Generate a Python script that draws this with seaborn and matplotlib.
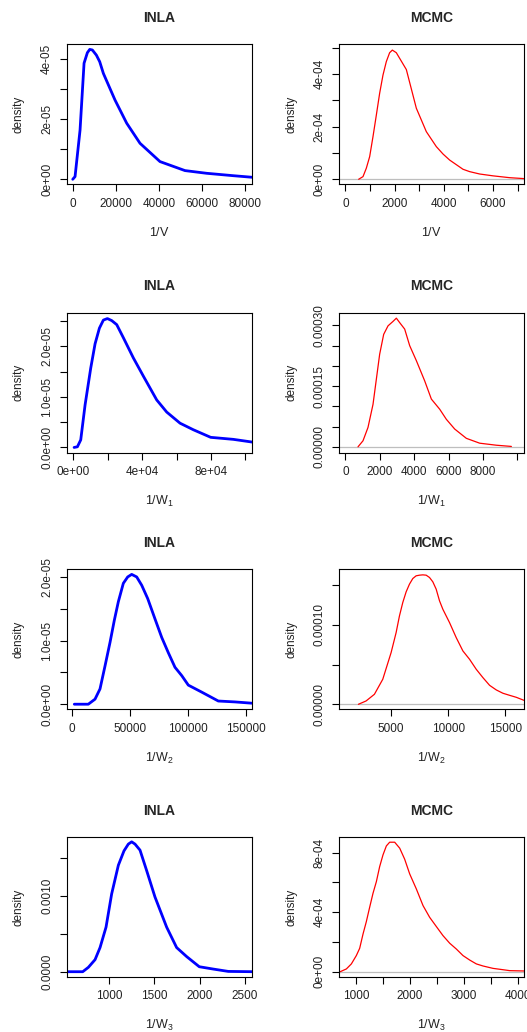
import matplotlib
matplotlib.use("Agg")
import matplotlib.pyplot as plt
from matplotlib.ticker import FixedLocator, FixedFormatter
import numpy as np
import pandas as pd
import seaborn as sns

# ---------------- data ----------------
inla_v_x = [0, 1080, 3400, 5260, 6800, 7900, 9120, 10980, 12530, 14230, 19650, 25060, 31250, 40530, 52130, 62190, 74560, 83380]
inla_v_y = [0, 0.09e-5, 1.64e-5, 3.87e-5, 4.22e-5, 4.33e-5, 4.31e-5, 4.14e-5, 3.92e-5, 3.53e-5, 2.64e-5, 1.87e-5, 1.20e-5, 0.59e-5, 0.29e-5, 0.20e-5, 0.12e-5, 0.067e-5]

mcmc_v_x = [542, 718, 853, 989, 1124, 1260, 1395, 1530, 1665, 1800, 1910, 2072, 2479, 2885, 3291, 3698, 3969, 4239, 4781, 5052, 5458, 6000, 6677, 7260]
mcmc_v_y = [0, 0.10e-4, 0.42e-4, 0.86e-4, 1.62e-4, 2.44e-4, 3.27e-4, 3.96e-4, 4.47e-4, 4.81e-4, 4.91e-4, 4.81e-4, 4.17e-4, 2.70e-4, 1.81e-4, 1.24e-4, 0.96e-4, 0.73e-4, 0.38e-4, 0.29e-4, 0.20e-4, 0.13e-4, 0.06e-4, 0.025e-4]

inla_w1_x = [390, 2320, 4260, 6780, 10070, 12590, 15110, 17430, 19760, 22280, 25180, 29060, 34870, 40680, 48430, 54240, 61990, 69730, 79810, 92980, 104000]
inla_w1_y = [0, 0.013e-5, 0.15e-5, 0.84e-5, 1.57e-5, 2.05e-5, 2.36e-5, 2.52e-5, 2.55e-5, 2.51e-5, 2.43e-5, 2.17e-5, 1.77e-5, 1.41e-5, 0.94e-5, 0.70e-5, 0.48e-5, 0.35e-5, 0.20e-5, 0.16e-5, 0.106e-5]

mcmc_w1_x = [736, 1027, 1317, 1608, 1995, 2228, 2480, 2770, 2964, 3157, 3448, 3739, 4126, 4610, 4998, 5482, 5869, 6353, 7031, 7806, 8775, 9647]
mcmc_w1_y = [0, 0.15e-4, 0.48e-4, 1.05e-4, 2.29e-4, 2.78e-4, 2.99e-4, 3.10e-4, 3.18e-4, 3.07e-4, 2.91e-4, 2.50e-4, 2.13e-4, 1.63e-4, 1.18e-4, 0.93e-4, 0.68e-4, 0.44e-4, 0.21e-4, 0.09e-4, 0.04e-4, 0.01e-4]

inla_w2_x = [2240, 14310, 20090, 24400, 28710, 33020, 36750, 40200, 44510, 48280, 51720, 56030, 60340, 65520, 71810, 77590, 83280, 89050, 94830, 100520, 112070, 126380, 140780, 155170]
inla_w2_y = [0, 0, 0.079e-5, 0.24e-5, 0.60e-5, 0.97e-5, 1.32e-5, 1.61e-5, 1.90e-5, 2.00e-5, 2.04e-5, 2.00e-5, 1.87e-5, 1.66e-5, 1.34e-5, 1.05e-5, 0.81e-5, 0.58e-5, 0.45e-5, 0.30e-5, 0.19e-5, 0.05e-5, 0.036e-5, 0.016e-5]

mcmc_w2_x = [2135, 2807, 3538, 4269, 5000, 5439, 5731, 6023, 6316, 6608, 6901, 7193, 7485, 7778, 8070, 8363, 8655, 8947, 9240, 9532, 10117, 10702, 11287, 11871, 12456, 13041, 13626, 14211, 14795, 15380, 15965, 16637]
mcmc_w2_y = [0, 0.042e-4, 0.126e-4, 0.315e-4, 0.651e-4, 0.903e-4, 1.113e-4, 1.282e-4, 1.416e-4, 1.513e-4, 1.584e-4, 1.618e-4, 1.626e-4, 1.630e-4, 1.626e-4, 1.597e-4, 1.542e-4, 1.450e-4, 1.303e-4, 1.197e-4, 1.029e-4, 0.840e-4, 0.672e-4, 0.567e-4, 0.441e-4, 0.336e-4, 0.239e-4, 0.181e-4, 0.139e-4, 0.113e-4, 0.088e-4, 0.050e-4]

inla_w3_x = [500, 710, 772, 846, 901, 967, 1029, 1103, 1165, 1213, 1250, 1287, 1342, 1415, 1507, 1636, 1746, 1857, 1996, 2151, 2316, 2600]
inla_w3_y = [0, 0, 0.058e-3, 0.16e-3, 0.32e-3, 0.59e-3, 1.03e-3, 1.41e-3, 1.60e-3, 1.69e-3, 1.72e-3, 1.69e-3, 1.61e-3, 1.34e-3, 0.99e-3, 0.59e-3, 0.32e-3, 0.20e-3, 0.066e-3, 0.035e-3, 0.004e-3, 0]

mcmc_w3_x = [710, 821, 914, 1006, 1068, 1130, 1191, 1253, 1315, 1377, 1438, 1500, 1562, 1623, 1716, 1809, 1901, 1994, 2117, 2241, 2364, 2488, 2611, 2735, 2858, 2981, 3105, 3228, 3352, 3537, 3722, 3846, 4111]
mcmc_w3_y = [0, 0.18e-4, 0.52e-4, 1.08e-4, 1.57e-4, 2.53e-4, 3.36e-4, 4.33e-4, 5.27e-4, 6.05e-4, 7.06e-4, 7.85e-4, 8.45e-4, 8.70e-4, 8.70e-4, 8.30e-4, 7.56e-4, 6.57e-4, 5.56e-4, 4.44e-4, 3.65e-4, 3.03e-4, 2.42e-4, 1.91e-4, 1.52e-4, 1.08e-4, 0.78e-4, 0.52e-4, 0.38e-4, 0.22e-4, 0.13e-4, 0.067e-4, 0.045e-4]

titles = ["INLA", "MCMC"]
x_labels = [r"$\mathregular{1/V}$", r"$\mathregular{1/W_1}$", r"$\mathregular{1/W_2}$", r"$\mathregular{1/W_3}$"]
y_label = "density"

# tick positions and the labels that are shown (empty = tick without label)
xticks = [
    ([0, 20000, 40000, 60000, 80000], ["0", "20000", "40000", "60000", "80000"]),
    ([0, 1000, 2000, 3000, 4000, 5000, 6000, 7000], ["0", "", "2000", "", "4000", "", "6000", ""]),
    ([0, 20000, 40000, 60000, 80000, 100000], ["0e+00", "", "4e+04", "", "8e+04", ""]),
    ([0, 2000, 4000, 6000, 8000, 10000], ["0", "2000", "4000", "6000", "8000", ""]),
    ([0, 50000, 100000, 150000], ["0", "50000", "100000", "150000"]),
    ([5000, 10000, 15000], ["5000", "10000", "15000"]),
    ([1000, 1500, 2000, 2500], ["1000", "1500", "2000", "2500"]),
    ([1000, 1500, 2000, 2500, 3000, 3500, 4000], ["1000", "", "2000", "", "3000", "", "4000"]),
]
yticks = [
    ([0, 1e-5, 2e-5, 3e-5, 4e-5], ["0e+00", "", "2e-05", "", "4e-05"]),
    ([0, 1e-4, 2e-4, 3e-4, 4e-4, 5e-4], ["0e+00", "", "2e-04", "", "4e-04", ""]),
    ([0, 0.5e-5, 1e-5, 1.5e-5, 2e-5, 2.5e-5], ["0.0e+00", "", "1.0e-05", "", "2.0e-05", ""]),
    ([0, 0.5e-4, 1e-4, 1.5e-4, 2e-4, 2.5e-4, 3e-4], ["0.00000", "", "", "0.00015", "", "", "0.00030"]),
    ([0, 0.5e-5, 1e-5, 1.5e-5, 2e-5], ["0.0e+00", "", "1.0e-05", "", "2.0e-05"]),
    ([0, 0.5e-4, 1e-4, 1.5e-4], ["0.00000", "", "0.00010", ""]),
    ([0, 0.5e-3, 1e-3, 1.5e-3], ["0.0000", "", "0.0010", ""]),
    ([0, 2e-4, 4e-4, 6e-4, 8e-4], ["0e+00", "", "4e-04", "", "8e-04"]),
]

series = [
    (inla_v_x, inla_v_y), (mcmc_v_x, mcmc_v_y),
    (inla_w1_x, inla_w1_y), (mcmc_w1_x, mcmc_w1_y),
    (inla_w2_x, inla_w2_y), (mcmc_w2_x, mcmc_w2_y),
    (inla_w3_x, inla_w3_y), (mcmc_w3_x, mcmc_w3_y),
]

# axis limits (view)
xlims = [(-2800, 83400), (-257, 7260), (-3900, 104000), (-368, 10380),
         (-4310, 155690), (436, 16640), (533, 2581), (685, 4111)]
ylims = [(-0.157e-5, 4.5e-5), (-0.18e-4, 5.13e-4), (-0.1e-5, 2.67e-5), (-0.14e-4, 3.32e-4),
         (-0.08e-5, 2.12e-5), (-0.063e-4, 1.70e-4), (-0.066e-3, 1.78e-3), (-0.34e-4, 9.03e-4)]

# ---------------- style ----------------
sns.set_style("ticks")
plt.rcParams["font.family"] = ["Liberation Sans", "DejaVu Sans"]
plt.rcParams["mathtext.default"] = "regular"
plt.rcParams["mathtext.fontset"] = "custom"
plt.rcParams["mathtext.rm"] = "Liberation Sans"

W, H = 527, 1032
fig = plt.figure(figsize=(W / 100, H / 100), dpi=100)
fig.patch.set_facecolor("white")

col_lr = [(66.7, 252.3), (339.0, 524.0)]
row_tb = [(44.3, 184.0), (312.5, 452.5), (569.3, 709.3), (837.3, 976.7)]

FS = 8.5
for i in range(8):
    r, c = divmod(i, 2)
    l, rr = col_lr[c]
    t, b = row_tb[r]
    wpx, hpx = rr - l, b - t
    ax = fig.add_axes([l / W, 1 - b / H, wpx / W, hpx / H])
    ax.set_facecolor("white")
    xs, ys = series[i]
    df = pd.DataFrame({"x": xs, "y": ys})
    if c == 1:
        ax.axhline(0, color="#bebebe", lw=0.9, zorder=1)
        sns.lineplot(data=df, x="x", y="y", ax=ax, color="#ff0000", linewidth=0.9,
                     sort=False, estimator=None, zorder=2)
    else:
        sns.lineplot(data=df, x="x", y="y", ax=ax, color="#0000ff", linewidth=2.0,
                     sort=False, estimator=None, zorder=2)
    ax.set_xlim(*xlims[i])
    ax.set_ylim(*ylims[i])

    xt, xl = xticks[i]
    yt, yl = yticks[i]
    ax.xaxis.set_major_locator(FixedLocator(xt))
    ax.xaxis.set_major_formatter(FixedFormatter(xl))
    ax.yaxis.set_major_locator(FixedLocator(yt))
    ax.yaxis.set_major_formatter(FixedFormatter(yl))
    ax.tick_params(axis="both", direction="out", length=5.3, width=0.8, color="black",
                   labelsize=FS, labelcolor="#222222", pad=4.5)
    ax.tick_params(axis="y", labelrotation=90)
    for tl in ax.get_yticklabels():
        tl.set_verticalalignment("center")
        tl.set_horizontalalignment("right")
    for s in ax.spines.values():
        s.set_visible(True)
        s.set_linewidth(0.8)
        s.set_color("black")

    ax.set_xlabel(x_labels[r], fontsize=FS + 0.5, color="#222222")
    ax.xaxis.label.set_verticalalignment("center")
    ax.xaxis.set_label_coords(0.5, -49 / hpx)
    ax.set_ylabel(y_label, fontsize=FS, color="#222222")
    ax.yaxis.label.set_verticalalignment("center")
    ax.yaxis.set_label_coords(-48 / wpx, 0.5)

    ax.set_title(titles[c], fontsize=10, fontweight="bold", y=1 + 26 / hpx, va="center", pad=0)

fig.savefig("out.png", dpi=100, facecolor="white")
